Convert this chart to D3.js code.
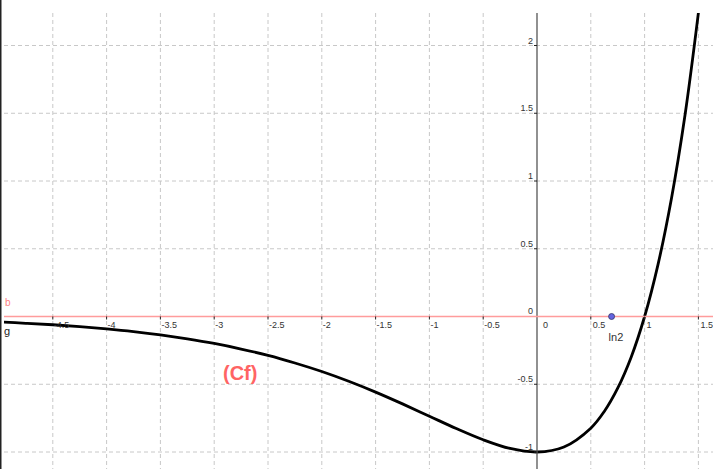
<!DOCTYPE html>
<html>
<head>
<meta charset="utf-8">
<script src="https://cdn.jsdelivr.net/npm/d3@7"></script>
<style>
  body { margin: 0; background: #fff; }
  svg { display: block; font-family: "Liberation Sans", Arial, sans-serif; }
</style>
</head>
<body>
<div id="chart"></div>
<script>
// curve points (x, y)
var curveX = [-5, -4.75, -4.5, -4.25, -4, -3.75, -3.5, -3.25, -3, -2.75, -2.5, -2.25, -2,
  -1.75, -1.5, -1.25, -1, -0.75, -0.5, -0.25, 0, 0.25, 0.5, 0.625, 0.75, 0.875, 1,
  1.125, 1.25, 1.375, 1.5];
var curveY = [-0.040, -0.050, -0.061, -0.075, -0.092, -0.112, -0.136, -0.165, -0.199, -0.240,
  -0.287, -0.343, -0.406, -0.478, -0.558, -0.645, -0.736, -0.827, -0.910, -0.974, -1,
  -0.963, -0.824, -0.701, -0.529, -0.300, 0, 0.385, 0.873, 1.483, 2.241];

// axis ticks
var xTicks = [-4.5, -4, -3.5, -3, -2.5, -2, -1.5, -1, -0.5, 0.5, 1, 1.5];
var xTickLabels = ["-4.5", "-4", "-3.5", "-3", "-2.5", "-2", "-1.5", "-1", "-0.5", "0.5", "1", "1.5"];
var yTicks = [-1, -0.5, 0.5, 1, 1.5, 2];
var yTickLabels = ["-1", "-0.5", "0.5", "1", "1.5", "2"];

// marked point
var pointX = [Math.LN2];
var pointLabels = ["ln2"];

var width = 713, height = 469;
var plotLeft = 4, plotTop = 13;

var svg = d3.select("#chart")
  .append("svg")
  .attr("width", width)
  .attr("height", height);

// GeoGebra like view: 0 at (537, 316.5)
var x = d3.scaleLinear().domain([0, 1]).range([537, 537 + 107.6]);
var y = d3.scaleLinear().domain([0, 1]).range([316.5, 316.5 - 135.5]);

svg.append("clipPath").attr("id", "clip")
  .append("rect")
  .attr("x", plotLeft).attr("y", plotTop)
  .attr("width", width - plotLeft).attr("height", height - plotTop);

var plot = svg.append("g").attr("clip-path", "url(#clip)");

// grid
var gridX = d3.range(-5, 2, 0.5);
var gridY = d3.range(-1, 2.5, 0.5);
plot.selectAll(".gx")
  .data(gridX.filter(function(d) { return d !== 0; }))
  .join("line")
  .attr("x1", function(d) { return x(d); })
  .attr("x2", function(d) { return x(d); })
  .attr("y1", plotTop).attr("y2", height)
  .attr("stroke", "#c8c8c8")
  .attr("stroke-dasharray", "4,3");
plot.selectAll(".gy")
  .data(gridY.filter(function(d) { return d !== 0; }))
  .join("line")
  .attr("y1", function(d) { return y(d); })
  .attr("y2", function(d) { return y(d); })
  .attr("x1", plotLeft).attr("x2", width)
  .attr("stroke", "#c8c8c8")
  .attr("stroke-dasharray", "4,3");

// y axis
svg.append("line")
  .attr("x1", x(0)).attr("x2", x(0))
  .attr("y1", plotTop).attr("y2", height)
  .attr("stroke", "#555")
  .attr("stroke-width", 1.3);

// line b (y = 0)
svg.append("line")
  .attr("x1", plotLeft).attr("x2", width)
  .attr("y1", y(0)).attr("y2", y(0))
  .attr("stroke", "#ff9c9c")
  .attr("stroke-width", 1.5);

// x ticks + labels
svg.selectAll(".xt")
  .data(xTicks)
  .join("line")
  .attr("x1", function(d) { return x(d); })
  .attr("x2", function(d) { return x(d); })
  .attr("y1", y(0)).attr("y2", y(0) + 3)
  .attr("stroke", "#222");
svg.selectAll(".xl")
  .data(xTicks)
  .join("text")
  .attr("x", function(d) { return x(d) + (d < 0 ? 1 : 2); })
  .attr("y", y(0) + 11)
  .attr("font-size", 9)
  .attr("fill", "#333")
  .text(function(d, i) { return xTickLabels[i]; });
svg.append("text")
  .attr("x", x(0) + 6).attr("y", y(0) + 11)
  .attr("font-size", 9).attr("fill", "#333")
  .text("0");

// y ticks + labels
svg.selectAll(".yt")
  .data(yTicks)
  .join("line")
  .attr("x1", x(0) - 3).attr("x2", x(0))
  .attr("y1", function(d) { return y(d); })
  .attr("y2", function(d) { return y(d); })
  .attr("stroke", "#222");
svg.selectAll(".yl")
  .data(yTicks)
  .join("text")
  .attr("x", x(0) - 4)
  .attr("y", function(d) { return y(d) - 2; })
  .attr("text-anchor", "end")
  .attr("font-size", 9)
  .attr("fill", "#333")
  .text(function(d, i) { return yTickLabels[i]; });
svg.append("text")
  .attr("x", x(0) - 4).attr("y", y(0) - 3)
  .attr("text-anchor", "end")
  .attr("font-size", 9).attr("fill", "#333")
  .text("0");

// curve Cf
var pts = curveX.map(function(d, i) { return [d, curveY[i]]; });
plot.append("path")
  .datum(pts)
  .attr("fill", "none")
  .attr("stroke", "#000")
  .attr("stroke-width", 2.8)
  .attr("d", d3.line()
    .x(function(d) { return x(d[0]); })
    .y(function(d) { return y(d[1]); })
    .curve(d3.curveCatmullRom));

// point ln2
svg.selectAll(".pt")
  .data(pointX)
  .join("circle")
  .attr("cx", function(d) { return x(d); })
  .attr("cy", y(0))
  .attr("r", 3)
  .attr("fill", "#6464e0")
  .attr("stroke", "#333366")
  .attr("stroke-width", 0.8);
svg.selectAll(".ptl")
  .data(pointX)
  .join("text")
  .attr("x", function(d) { return x(d) - 3; })
  .attr("y", y(0) + 24)
  .attr("font-size", 11)
  .attr("fill", "#333")
  .text(function(d, i) { return pointLabels[i]; });

// object labels
svg.append("text")
  .attr("x", 5).attr("y", 306)
  .attr("font-size", 10).attr("fill", "#ff7f7f")
  .text("b");
svg.append("text")
  .attr("x", 4).attr("y", 335)
  .attr("font-size", 11).attr("fill", "#222")
  .text("g");
svg.append("text")
  .attr("x", 223).attr("y", 380)
  .attr("font-size", 20).attr("font-weight", "bold")
  .attr("fill", "#ff6464")
  .text("(Cf)");

// left border
svg.append("line")
  .attr("x1", 0.75).attr("x2", 0.75)
  .attr("y1", 0).attr("y2", height)
  .attr("stroke", "#222")
  .attr("stroke-width", 1.5);
</script>
</body>
</html>
